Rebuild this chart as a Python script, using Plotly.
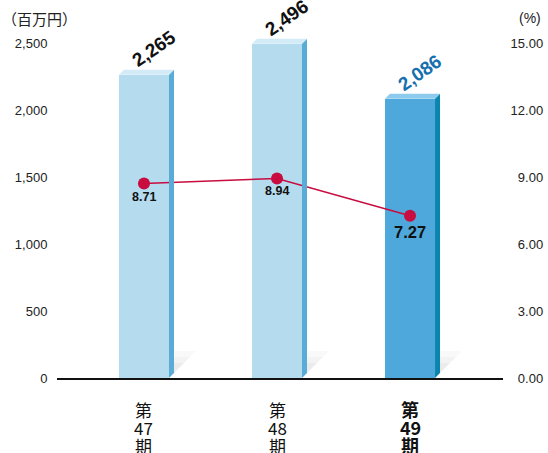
import plotly.graph_objects as go

# Data
period_lines = [["第", "47", "期"], ["第", "48", "期"], ["第", "49", "期"]]
sales = [2265, 2496, 2086]              # 百万円 (left axis)
ratio = [8.71, 8.94, 7.27]              # % (right axis)
left_ticks = [0, 500, 1000, 1500, 2000, 2500]
right_ticks = [0, 3, 6, 9, 12, 15]

# Styling
W, H = 548, 453
M_L, M_R, M_T, M_B = 57, 45, 3, 75
X_RANGE = [-0.654, 2.699]
Y_MAX = 2800
Y2_MAX = Y_MAX * 15 / 2500
BAR_W = 0.376
DEPTH_PX = 5

FRONT = ["#b5dbef", "#b5dbef", "#4fa8dc"]
SIDE = ["#58acd5", "#58acd5", "#0b85ad"]
TOP = ["#d3ebf7", "#d3ebf7", "#8ccbee"]
LABEL_COL = ["#111111", "#111111", "#1570b0"]
RED = "#c80c40"
FONT = "Liberation Sans, Arial, Noto Sans CJK JP, sans-serif"
JP = "Noto Sans CJK JP, sans-serif"

px_per_x = (W - M_L - M_R) / (X_RANGE[1] - X_RANGE[0])
px_per_y = (H - M_T - M_B) / Y_MAX
dx = DEPTH_PX / px_per_x
dy = DEPTH_PX / px_per_y

xs = list(range(len(sales)))

fig = go.Figure()

# Front faces of the bars
fig.add_trace(go.Bar(
    x=xs, y=sales, width=BAR_W, marker=dict(color=FRONT, line=dict(width=0)),
    hoverinfo="skip", showlegend=False,
))

shapes = []
for i, v in enumerate(sales):
    xl, xr = i - BAR_W / 2, i + BAR_W / 2
    # soft ground shadow to the right of each bar (layered for a fade)
    for size, alpha in [(22, 0.025), (16, 0.025), (10, 0.03)]:
        shapes.append(dict(
            type="path", xref="x", yref="y", layer="below",
            path=f"M{xr + dx},{dy} L{xr + dx},{dy + size / px_per_y} "
                 f"L{xr + dx + size / px_per_x},{dy + size / px_per_y} Z",
            fillcolor=f"rgba(0,0,0,{alpha})", line=dict(width=0),
        ))
    # side face
    shapes.append(dict(
        type="path", xref="x", yref="y",
        path=f"M{xr},0 L{xr + dx},{dy} L{xr + dx},{v + dy} L{xr},{v} Z",
        fillcolor=SIDE[i], line=dict(width=0),
    ))
    # top face
    shapes.append(dict(
        type="path", xref="x", yref="y",
        path=f"M{xl},{v} L{xr},{v} L{xr + dx},{v + dy} L{xl + dx},{v + dy} Z",
        fillcolor=TOP[i], line=dict(width=0),
    ))

# Ratio line
fig.add_trace(go.Scatter(
    x=xs, y=ratio, yaxis="y2", mode="lines+markers",
    line=dict(color=RED, width=1.5),
    marker=dict(color=RED, size=12),
    hoverinfo="skip", showlegend=False,
))

annotations = []
# Bar value labels
for i, v in enumerate(sales):
    annotations.append(dict(
        x=i, y=v, xref="x", yref="y", text=f"<b>{v:,}</b>", showarrow=False,
        textangle=-35, xshift=10, yshift=26,
        font=dict(family=FONT, size=19, color=LABEL_COL[i]),
    ))
# Ratio value labels
ratio_sizes = [12.5, 12.5, 16.5]
ratio_shift = [-13, -13, -16]
for i, r in enumerate(ratio):
    annotations.append(dict(
        x=i, y=r, xref="x", yref="y2", text=f"<b>{r:.2f}</b>", showarrow=False,
        yshift=ratio_shift[i],
        font=dict(family=FONT, size=ratio_sizes[i], color="#111111"),
    ))
# Category labels, stacked vertically
for i, lines in enumerate(period_lines):
    for j, t in enumerate(lines):
        txt = f"<b>{t}</b>" if i == len(period_lines) - 1 else t
        annotations.append(dict(
            x=i, y=0, xref="x", yref="y", text=txt, showarrow=False,
            yanchor="middle", yshift=-(31 + 18 * j),
            font=dict(family=JP, size=18 if i == 2 else 17, color="#111111"),
        ))
# Axis unit labels
annotations.append(dict(
    x=0, y=2500, xref="paper", yref="y", text="（百万円）", showarrow=False,
    xanchor="right", yanchor="middle", xshift=22, yshift=25,
    font=dict(family=JP, size=15, color="#222222"),
))
annotations.append(dict(
    x=1, y=15, xref="paper", yref="y2", text="(%)", showarrow=False,
    xanchor="right", yanchor="middle", xshift=40, yshift=25,
    font=dict(family=FONT, size=14, color="#222222"),
))

FS = "\u2007"
right_text = [(FS if t < 10 else "") + f"{t:.2f}" for t in right_ticks]

fig.update_layout(
    width=W, height=H,
    margin=dict(l=M_L, r=M_R, t=M_T, b=M_B),
    paper_bgcolor="white", plot_bgcolor="white",
    shapes=shapes, annotations=annotations,
    bargap=0,
    xaxis=dict(
        range=X_RANGE, showgrid=False, zeroline=False,
        tickvals=xs, ticktext=["", "", ""], ticks="",
        showline=True, linecolor="#111111", linewidth=1.5,
        fixedrange=True,
    ),
    yaxis=dict(
        range=[0, Y_MAX], tickvals=left_ticks, tickformat=",",
        showgrid=False, zeroline=False, showline=False,
        ticks="outside", ticklen=6, tickcolor="rgba(0,0,0,0)",
        tickfont=dict(family=FONT, size=13, color="#222222"),
    ),
    yaxis2=dict(
        range=[0, Y2_MAX], overlaying="y", side="right",
        tickvals=right_ticks, ticktext=right_text,
        showgrid=False, zeroline=False, showline=False,
        ticks="outside", ticklen=4, tickcolor="rgba(0,0,0,0)",
        tickfont=dict(family=FONT, size=13, color="#222222"),
    ),
)

fig.write_html("out.html")
